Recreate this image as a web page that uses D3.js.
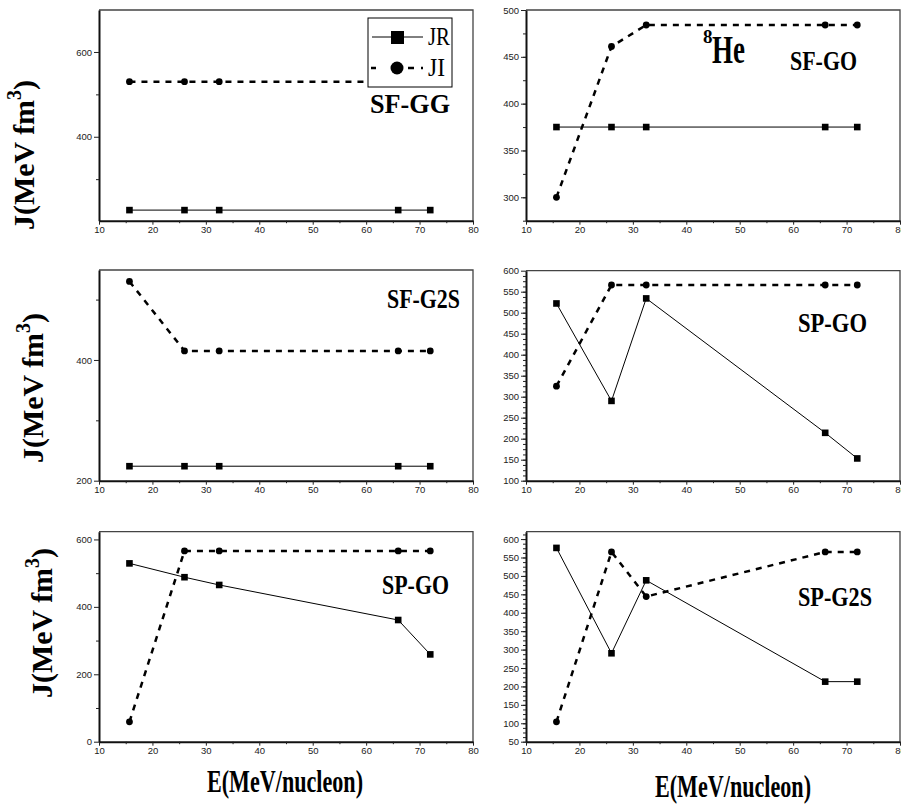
<!DOCTYPE html>
<html>
<head>
<meta charset="utf-8">
<script src="https://cdn.jsdelivr.net/npm/d3@7"></script>
<style>
  body { margin: 0; background: #fff; }
  svg { display: block; }
</style>
</head>
<body>
<script>
// incident energy (MeV/nucleon), shared by all panels
const energy = [15.7, 26, 32.5, 66, 72];

// volume integrals J (MeV fm^3)
const sfggJR = [227, 227, 227, 227, 227];
const sfggJI = [530, 530, 530, 530, 530];
const sfgoJR = [375, 375, 375, 375, 375];
const sfgoJI = [300, 461, 484, 484, 484];
const sfg2sJR = [224, 224, 224, 224, 224];
const sfg2sJI = [530, 415, 415, 415, 415];
const spgoAJR = [522, 290, 534, 214, 153];
const spgoAJI = [325, 566, 566, 566, 566];
const spgoBJR = [529, 488, 465, 361, 259];
const spgoBJI = [59, 566, 566, 566, 566];
const spg2sJR = [576, 290, 488, 213, 213];
const spg2sJI = [104, 565, 444, 565, 565];

const xTicks = [10, 20, 30, 40, 50, 60, 70, 80];
const xMinor = [15, 25, 35, 45, 55, 65, 75];

const w = 901, h = 808;

let panels = [
  { name: "SF-GG", jr: sfggJR, ji: sfggJI, yDom: [202, 699], yTicks: [400, 600], yMinor: [300, 500],
    box: [99, 473, 10, 220.7], lab: [370, 113, 80] },
  { name: "SF-GO", jr: sfgoJR, ji: sfgoJI, yDom: [275, 500], yTicks: d3.range(300, 501, 50), yMinor: d3.range(275, 500, 25),
    box: [526, 900, 10, 220.7], lab: [790, 70, 67] },
  { name: "SF-G2S", jr: sfg2sJR, ji: sfg2sJI, yDom: [200, 549], yTicks: [200, 400], yMinor: [300, 500],
    box: [99, 473, 270, 480.7], lab: [387, 308, 73] },
  { name: "SP-GO", jr: spgoAJR, ji: spgoAJI, yDom: [100, 600], yTicks: d3.range(100, 601, 50), yMinor: d3.range(100, 600, 12.5),
    box: [526, 900, 270.7, 480.7], lab: [798, 332, 69] },
  { name: "SP-GO", jr: spgoBJR, ji: spgoBJI, yDom: [0, 623], yTicks: [0, 200, 400, 600], yMinor: [100, 300, 500],
    box: [99, 473, 531.7, 741.7], lab: [382, 594, 67] },
  { name: "SP-G2S", jr: spg2sJR, ji: spg2sJI, yDom: [50, 620], yTicks: d3.range(50, 601, 50), yMinor: d3.range(50, 620, 12.5),
    box: [526, 900, 531.7, 741.7], lab: [798, 606, 74] }
];

let svg = d3.select("body")
  .append("svg")
  .attr("width", w)
  .attr("height", h);

let tickFont = "'Liberation Sans Narrow', 'Arial Narrow', 'Liberation Sans', sans-serif";
let serif = "'Liberation Serif', 'Times New Roman', serif";

panels.forEach(function(p) {
  let [x0, x1, y0, y1] = p.box;
  let xScale = d3.scaleLinear().domain([10, 80]).range([x0, x1]);
  let yScale = d3.scaleLinear().domain(p.yDom).range([y1, y0]);
  let g = svg.append("g");

  // frame: thin grey top/right
  g.append("path")
    .attr("d", "M" + x0 + "," + y0 + "H" + x1 + "V" + y1)
    .attr("fill", "none")
    .attr("stroke", "#444")
    .attr("stroke-width", 1.3);

  let xAxis = g.append("g")
    .attr("transform", "translate(0," + y1 + ")")
    .call(d3.axisBottom(xScale).tickValues(xTicks).tickSize(4).tickSizeOuter(0).tickPadding(2).tickFormat(d3.format("d")));
  g.append("g")
    .attr("transform", "translate(0," + y1 + ")")
    .call(d3.axisBottom(xScale).tickValues(xMinor).tickSize(2.5).tickSizeOuter(0).tickFormat(""))
    .select(".domain").remove();

  let yAxis = g.append("g")
    .attr("transform", "translate(" + x0 + ",0)")
    .call(d3.axisLeft(yScale).tickValues(p.yTicks).tickSize(5).tickSizeOuter(0).tickPadding(2).tickFormat(d3.format("d")));
  g.append("g")
    .attr("transform", "translate(" + x0 + ",0)")
    .call(d3.axisLeft(yScale).tickValues(p.yMinor).tickSize(3).tickSizeOuter(0).tickFormat(""))
    .select(".domain").remove();

  [xAxis, yAxis].forEach(a => {
    a.select(".domain").attr("stroke-width", 2).attr("stroke", "#111");
    a.selectAll("text")
      .style("font-family", tickFont)
      .style("font-size", "9.5px")
      .attr("fill", "#222");
  });
  g.selectAll(".tick line").attr("stroke", "#222");

  let pts = (vals) => energy.map((e, i) => [e, vals[i]]);
  let line = d3.line().x(d => xScale(d[0])).y(d => yScale(d[1]));

  g.append("path")
    .datum(pts(p.ji))
    .attr("d", line)
    .attr("fill", "none")
    .attr("stroke", "#000")
    .attr("stroke-width", 2.5)
    .attr("stroke-dasharray", "6,6");
  g.append("path")
    .datum(pts(p.jr))
    .attr("d", line)
    .attr("fill", "none")
    .attr("stroke", "#000")
    .attr("stroke-width", 1);

  g.selectAll(".ji")
    .data(pts(p.ji))
    .enter()
    .append("circle")
    .attr("cx", d => xScale(d[0]))
    .attr("cy", d => yScale(d[1]))
    .attr("r", 3.4)
    .attr("fill", "#000");
  g.selectAll(".jr")
    .data(pts(p.jr))
    .enter()
    .append("rect")
    .attr("x", d => xScale(d[0]) - 3.3)
    .attr("y", d => yScale(d[1]) - 3.3)
    .attr("width", 6.6)
    .attr("height", 6.6)
    .attr("fill", "#000");

  g.append("text")
    .attr("x", p.lab[0])
    .attr("y", p.lab[1])
    .attr("textLength", p.lab[2])
    .attr("lengthAdjust", "spacingAndGlyphs")
    .style("font-family", serif)
    .style("font-weight", "bold")
    .style("font-size", "27px")
    .text(p.name);
});

// legend in the first panel (drawn over the hidden JI points)
let legend = svg.append("g").attr("id", "legend");
legend.append("rect")
  .attr("x", 368).attr("y", 18)
  .attr("width", 84).attr("height", 69)
  .attr("fill", "#fff")
  .attr("stroke", "#000")
  .attr("stroke-width", 1);
legend.append("line")
  .attr("x1", 372).attr("x2", 423).attr("y1", 37).attr("y2", 37)
  .attr("stroke", "#000").attr("stroke-width", 1);
legend.append("rect")
  .attr("x", 391).attr("y", 31).attr("width", 13).attr("height", 13)
  .attr("fill", "#000");
legend.append("line")
  .attr("x1", 371).attr("x2", 423).attr("y1", 68).attr("y2", 68)
  .attr("stroke", "#000").attr("stroke-width", 2.5)
  .attr("stroke-dasharray", "5,32,6,7,2");
legend.append("circle")
  .attr("cx", 397).attr("cy", 68).attr("r", 6.5)
  .attr("fill", "#000");
legend.selectAll(".lt")
  .data(["JR", "JI"])
  .enter()
  .append("text")
  .attr("x", 428)
  .attr("y", (d, i) => 45 + i * 31)
  .attr("textLength", (d, i) => i == 0 ? 22 : 17)
  .attr("lengthAdjust", "spacingAndGlyphs")
  .style("font-family", serif)
  .style("font-size", "25px")
  .text(d => d);

// nucleus label
let he = svg.append("text")
  .attr("x", 703)
  .attr("y", 63)
  .style("font-family", serif)
  .style("font-weight", "bold");
he.append("tspan").attr("dy", -20).style("font-size", "19px").text("8");
he.append("tspan").attr("x", 712).attr("y", 63).attr("textLength", 33).attr("lengthAdjust", "spacingAndGlyphs")
  .style("font-size", "40px").text("He");

// y axis titles
[[34, 155], [43, 388], [52, 623]].forEach(function(pos) {
  let t = svg.append("text")
    .attr("transform", "translate(" + pos[0] + "," + pos[1] + ") rotate(-90)")
    .attr("text-anchor", "middle")
    .style("font-family", serif)
    .style("font-weight", "bold")
    .style("font-size", "30px");
  t.append("tspan").text("J(MeV fm");
  t.append("tspan").attr("dy", -13).style("font-size", "20px").text("3");
  t.append("tspan").attr("dy", 13).text(")");
});

// x axis titles
[[207, 792], [655, 797]].forEach(function(pos) {
  svg.append("text")
    .attr("x", pos[0])
    .attr("y", pos[1])
    .attr("textLength", 156)
    .attr("lengthAdjust", "spacingAndGlyphs")
    .style("font-family", serif)
    .style("font-weight", "bold")
    .style("font-size", "31px")
    .text("E(MeV/nucleon)");
});
</script>
</body>
</html>
